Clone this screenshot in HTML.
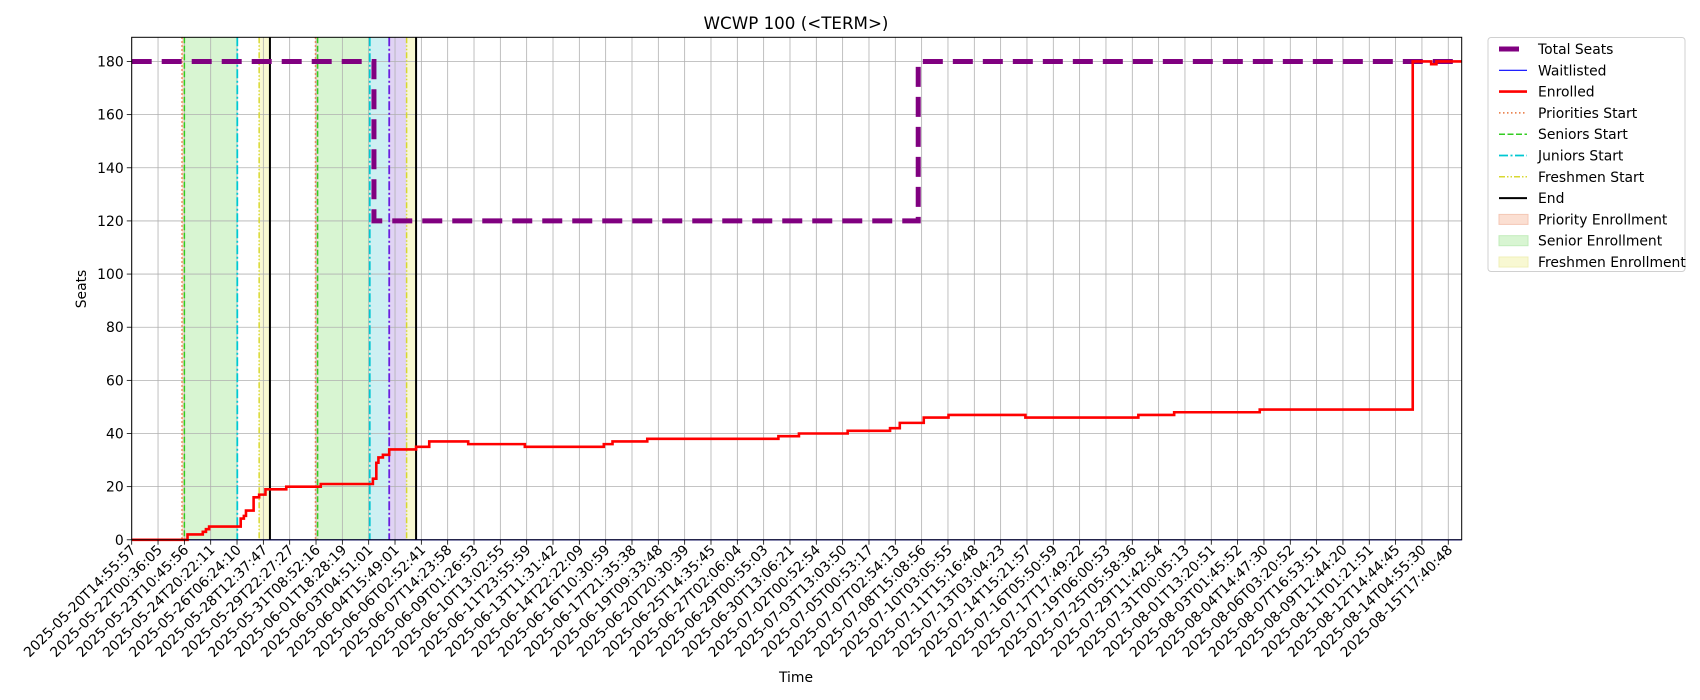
<!DOCTYPE html>
<html><head><meta charset="utf-8"><style>
body{margin:0;background:#fff;}
svg{display:block;font-family:"DejaVu Sans","Liberation Sans",sans-serif;}
</style></head><body>
<svg id="chart" width="1700" height="700" viewBox="0 0 1700 700" xmlns="http://www.w3.org/2000/svg">
<rect x="0" y="0" width="1700" height="700" fill="#fff"/>
<text x="796" y="29" font-size="16.7" text-anchor="middle">WCWP 100 (&lt;TERM&gt;)</text>
<text x="0" y="0" font-size="13.9" text-anchor="middle" transform="translate(86,289) rotate(-90)">Seats</text>
<text x="796" y="682" font-size="13.9" text-anchor="middle">Time</text>
<g id="spans"></g><g id="grid"></g><g id="vlines"></g><g id="series"></g><g id="axes"></g><g id="legend"></g>
</svg>
<script>
const tickLabels=["2025-05-20T14:55:57","2025-05-22T00:36:05","2025-05-23T10:45:56","2025-05-24T20:22:11","2025-05-26T06:24:10","2025-05-28T12:37:47","2025-05-29T22:27:27","2025-05-31T08:52:16","2025-06-01T18:28:19","2025-06-03T04:51:01","2025-06-04T15:49:01","2025-06-06T02:52:41","2025-06-07T14:23:58","2025-06-09T01:26:53","2025-06-10T13:02:55","2025-06-11T23:55:59","2025-06-13T11:31:42","2025-06-14T22:22:09","2025-06-16T10:30:59","2025-06-17T21:35:38","2025-06-19T09:33:48","2025-06-20T20:30:39","2025-06-25T14:35:45","2025-06-27T02:06:04","2025-06-29T00:55:03","2025-06-30T13:06:21","2025-07-02T00:52:54","2025-07-03T13:03:50","2025-07-05T00:53:17","2025-07-07T02:54:13","2025-07-08T15:08:56","2025-07-10T03:05:55","2025-07-11T15:16:48","2025-07-13T03:04:23","2025-07-14T15:21:57","2025-07-16T05:50:59","2025-07-17T17:49:22","2025-07-19T06:00:53","2025-07-25T05:58:36","2025-07-29T11:42:54","2025-07-31T00:05:13","2025-08-01T13:20:51","2025-08-03T01:45:52","2025-08-04T14:47:30","2025-08-06T03:20:52","2025-08-07T16:53:51","2025-08-09T12:44:20","2025-08-11T01:21:51","2025-08-12T14:44:45","2025-08-14T04:55:30","2025-08-15T17:40:48"];
const yTicks=[0,20,40,60,80,100,120,140,160,180];
// Enrolled step series (x in snapshot-index units, y seats); value changes at each x
const enrolledX=[0,2.0,2.12,2.61,2.70,2.82,2.94,4.01,4.14,4.26,4.34,4.63,4.84,5.08,5.87,7.18,9.04,9.16,9.29,9.37,9.54,9.78,10.80,11.30,12.78,14.93,17.93,18.26,19.58,24.56,25.34,27.19,28.80,29.17,30.08,31.02,33.94,38.23,39.59,42.84,48.40,48.65,49.35,49.55,50.51];
const enrolledY=[0,0,2,2,3,4,5,5,8,9,11,16,17,19,20,21,21,23,29,31,32,34,35,37,36,35,36,37,38,39,40,41,42,44,46,47,46,47,48,49,49,180,179,180,180];
const seatsX=[0,9.20,29.87,50.51];
const seatsY=[180,120,180,180];
const waitX=[0,50.51];
const waitY=[0,0];
const spanStart=[1.91,2.00,4.84,6.98,7.06,9.04,9.78,10.44];
const spanEnd=[2.00,4.01,5.25,7.06,9.04,9.78,10.44,10.80];
const spanKind=["priority","senior","freshmen","priority","senior","junior","soph","freshmen"];
const lineX=[1.91,2.00,4.01,4.84,5.25,6.98,7.06,9.04,9.78,10.44,10.80];
const lineKind=["priority","senior","junior","freshmen","end","priority","senior","junior","soph","freshmen","end"];

const L=131.7,R=1461.7,T=37.3,B=539.8,XMAX=50.51,YMAX=189.1;
const X=v=>L+v*(R-L)/XMAX;
const Y=v=>B-v*(B-T)/YMAX;
const NS="http://www.w3.org/2000/svg";
function mk(tag,parent,attrs){const e=document.createElementNS(NS,tag);for(const k in attrs)e.setAttribute(k,attrs[k]);parent.appendChild(e);return e;}
const spanFill={priority:"#fbdfd2",senior:"#d8f5d2",freshmen:"#f8f8d2",junior:"#cdf0f2",soph:"#e0d3f4"};
const lineSt={priority:{c:"#e8743b",d:"1.5,2.5",w:1.5},senior:{c:"#33cc22",d:"6,2.5",w:1.5},junior:{c:"#00c8d2",d:"9,2.5,2,2.5",w:1.8},freshmen:{c:"#d8d830",d:"6,2,1.5,2,1.5,2",w:1.5},end:{c:"#000",d:"",w:2},soph:{c:"#6a1ee0",d:"9,2.5,2,2.5",w:1.8}};
const gS=document.getElementById('spans'),gG=document.getElementById('grid'),gV=document.getElementById('vlines'),gSe=document.getElementById('series'),gA=document.getElementById('axes'),gL=document.getElementById('legend');
spanStart.forEach((s,i)=>{
 const r=mk('rect',gS,{x:X(s),y:T,width:X(spanEnd[i])-X(s),height:B-T,fill:spanFill[spanKind[i]]});
 
 
});
tickLabels.forEach((t,i)=>{
 const x=X(i);
 const g=mk('line',gG,{x1:x,x2:x,y1:T,y2:B,stroke:"#b0b0b0","stroke-width":0.8});
 
 
 mk('line',gA,{x1:x,x2:x,y1:B,y2:B+4.9,stroke:"#000","stroke-width":0.8});
 const tx=mk('text',gA,{x:0,y:0,"font-size":13.9,"text-anchor":"end",transform:`translate(${x+5},${B+11}) rotate(-45)`});
 tx.textContent=t;
 
 
});
yTicks.forEach(v=>{
 const y=Y(v);
 const g=mk('line',gG,{x1:L,x2:R,y1:y,y2:y,stroke:"#b0b0b0","stroke-width":0.8});
 
 
 mk('line',gA,{x1:L-4.9,x2:L,y1:y,y2:y,stroke:"#000","stroke-width":0.8});
 const tx=mk('text',gA,{x:L-8,y:y+5,"font-size":13.9,"text-anchor":"end"});
 tx.textContent=v;
 
 
});
lineX.forEach((v,i)=>{
 const s=lineSt[lineKind[i]];
 const l=mk('line',gV,{x1:X(v),x2:X(v),y1:T,y2:B,stroke:s.c,"stroke-width":s.w,"stroke-dasharray":s.d});
 
 
});
function stepPath(xs,ys){let d=`M${X(xs[0])},${Y(ys[0])}`;for(let i=1;i<xs.length;i++){d+=` L${X(xs[i])},${Y(ys[i-1])} L${X(xs[i])},${Y(ys[i])}`;}return d;}
function linePath(xs,ys){return xs.map((x,i)=>(i?'L':'M')+X(x)+','+Y(ys[i])).join(' ');}
const pw=mk('path',gSe,{d:linePath(waitX,waitY),fill:"none",stroke:"#0000ff","stroke-width":1.2});


const ps=mk('path',gSe,{d:stepPath(seatsX,seatsY),fill:"none",stroke:"#800080","stroke-width":5,"stroke-dasharray":"20,10"});


const pe=mk('path',gSe,{d:stepPath(enrolledX,enrolledY),fill:"none",stroke:"#ff0000","stroke-width":2.6,"stroke-linejoin":"miter"});


const fr=mk('rect',gA,{x:L,y:T,width:R-L,height:B-T,fill:"none",stroke:"#000","stroke-width":1});


const lb=mk('rect',gL,{x:1488,y:37.5,width:197,height:234,rx:3,fill:"#fff",stroke:"#d0d0d0","stroke-width":1});


const legNames=["Total Seats","Waitlisted","Enrolled","Priorities Start","Seniors Start","Juniors Start","Freshmen Start","End","Priority Enrollment","Senior Enrollment","Freshmen Enrollment"];
const legSt=[{c:"#800080",w:5,d:"20,10"},{c:"#0000ff",w:1.2,d:""},{c:"#ff0000",w:2.6,d:""},{c:"#e8743b",w:1.5,d:"1.5,2.5"},{c:"#33cc22",w:1.5,d:"6,2.5"},{c:"#00c8d2",w:1.8,d:"9,2.5,2,2.5"},{c:"#d8d830",w:1.5,d:"6,2,1.5,2,1.5,2"},{c:"#000",w:2,d:""},{f:"#fbdfd2",s:"#f4c7b5"},{f:"#d8f5d2",s:"#c2ecbb"},{f:"#f8f8d2",s:"#efefb8"}];
legNames.forEach((n,i)=>{
 const y=49+i*21.3;
 const st=legSt[i];
 if(st.f){mk('rect',gL,{x:1499,y:y-5,width:29,height:10,fill:st.f,stroke:st.s,"stroke-width":1});}
 else{mk('line',gL,{x1:1499,x2:1527,y1:y,y2:y,stroke:st.c,"stroke-width":st.w,"stroke-dasharray":st.d});}
 const t=mk('text',gL,{x:1538,y:y+5,"font-size":13.9});
 t.textContent=n;
 
 
});
</script>
</body></html>
